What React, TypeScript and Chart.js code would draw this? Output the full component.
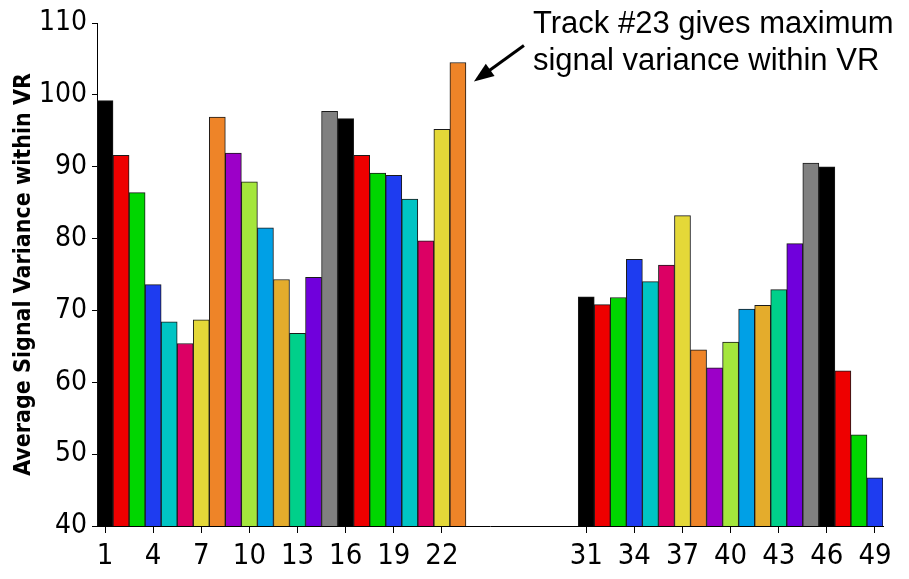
import React, { useEffect, useRef } from "react";
import { Chart, registerables } from "chart.js";

Chart.register(...registerables);

const tracks: string[] = [
  "1", "2", "3", "4", "5", "6", "7", "8", "9", "10",
  "11", "12", "13", "14", "15", "16", "17", "18", "19", "20",
  "21", "22", "23", "24", "25", "26", "27", "28", "29", "30",
  "31", "32", "33", "34", "35", "36", "37", "38", "39", "40",
  "41", "42", "43", "44", "45", "46", "47", "48", "49",
];

const variance: (number | null)[] = [
  99.2, 91.6, 86.4, 73.6, 68.4, 65.4, 68.7, 96.9, 91.9, 87.9,
  81.5, 74.3, 66.8, 74.6, 97.7, 96.7, 91.6, 89.1, 88.8, 85.5,
  79.7, 95.2, 104.5, null, null, null, null, null, null, null,
  71.9, 70.8, 71.8, 77.1, 74.0, 76.3, 83.2, 64.5, 62.0, 65.6,
  70.2, 70.7, 72.9, 79.3, 90.5, 90.0, 61.6, 52.7, 46.7,
];

const palette: string[] = [
  "#000000", "#EE0000", "#00D600", "#1E3CF0", "#00C4C4",
  "#DC0064", "#E4D838", "#EE8428", "#9C00C8", "#A4E63C",
  "#00A0E6", "#E4AC2C", "#00D08A", "#7000DC", "#808080",
];

const shownTicks: string[] = ["1", "4", "7", "10", "13", "16", "19", "22", "31", "34", "37", "40", "43", "46", "49"];

const yTitle = "Average Signal Variance within VR";
const noteLines: string[] = ["Track #23 gives maximum", "signal variance within VR"];
const noteTrackIndex = 22;

const narrow = "'Liberation Sans Narrow', 'DejaVu Sans Condensed', 'Arial Narrow', sans-serif";
const regular = "'Liberation Sans', Arial, sans-serif";

const notePlugin = {
  id: "note",
  afterDraw(chart: any) {
    const meta = chart.getDatasetMeta(0);
    const bar: any = meta.data[noteTrackIndex];
    if (!bar) return;
    const rx = bar.x + bar.width / 2;
    const ty = bar.y;
    const ctx = chart.ctx;
    ctx.save();
    const tipX = rx + 8, tipY = ty + 19;
    const tailX = rx + 58, tailY = ty - 17;
    const dx = tipX - tailX, dy = tipY - tailY;
    const len = Math.hypot(dx, dy);
    const ux = dx / len, uy = dy / len;
    const headLen = 20, headHalf = 7.5;
    ctx.strokeStyle = "#000";
    ctx.fillStyle = "#000";
    ctx.lineWidth = 3;
    ctx.beginPath();
    ctx.moveTo(tailX, tailY);
    ctx.lineTo(tipX - ux * (headLen - 4), tipY - uy * (headLen - 4));
    ctx.stroke();
    const bx = tipX - ux * headLen, by = tipY - uy * headLen;
    ctx.beginPath();
    ctx.moveTo(tipX, tipY);
    ctx.lineTo(bx - uy * headHalf, by + ux * headHalf);
    ctx.lineTo(bx + uy * headHalf, by - ux * headHalf);
    ctx.closePath();
    ctx.fill();
    ctx.font = `31px ${regular}`;
    ctx.textAlign = "left";
    ctx.textBaseline = "alphabetic";
    ctx.fillStyle = "#000";
    ctx.fillText(noteLines[0], rx + 67, ty - 30);
    ctx.fillText(noteLines[1], rx + 67, ty + 7);
    ctx.restore();
  },
};

export default function App() {
  const ref = useRef<HTMLCanvasElement | null>(null);
  useEffect(() => {
    if (!ref.current) return;
    const chart = new Chart(ref.current, {
      type: "bar",
      data: {
        labels: tracks,
        datasets: [
          {
            data: variance,
            backgroundColor: tracks.map((_, i) => palette[i % palette.length]),
            borderColor: "#1a1a1a",
            borderWidth: 1,
            barPercentage: 1,
            categoryPercentage: 1,
          },
        ],
      },
      options: {
        responsive: false,
        animation: false,
        layout: { padding: { top: 23, right: 26, left: 0, bottom: 0 } },
        plugins: {
          legend: { display: false },
          tooltip: { enabled: false },
        },
        scales: {
          x: {
            type: "category",
            offset: true,
            grid: {
              display: true,
              offset: false,
              drawOnChartArea: false,
              drawTicks: true,
              tickLength: 7,
              color: "#000",
              lineWidth: 1,
            },
            border: { display: true, color: "#000", width: 1 },
            ticks: {
              autoSkip: false,
              maxRotation: 0,
              minRotation: 0,
              padding: 6,
              color: "#000",
              font: { family: narrow, size: 29 },
              callback: function (this: any, value: any) {
                const lbl = this.getLabelForValue(value);
                return shownTicks.includes(lbl) ? lbl : null;
              },
            },
            afterFit: (s: any) => {
              s.height = 53;
            },
          },
          y: {
            min: 40,
            max: 110,
            grid: {
              display: true,
              drawOnChartArea: false,
              drawTicks: true,
              tickLength: 5,
              color: "#000",
              lineWidth: 1,
            },
            border: { display: true, color: "#000", width: 1 },
            ticks: {
              stepSize: 10,
              padding: 5,
              color: "#000",
              font: { family: narrow, size: 28 },
            },
            title: {
              display: true,
              text: yTitle,
              color: "#000",
              font: { family: narrow, size: 23, weight: "bold" },
              padding: { top: 10, bottom: 0 },
            },
            afterFit: (s: any) => {
              s.width = 97;
            },
          },
        },
      },
      plugins: [notePlugin],
    });
    return () => chart.destroy();
  }, []);
  return (
    <div style={{ position: "absolute", left: 0, top: 0, width: 909, height: 579 }}>
      <canvas ref={ref} width={909} height={579} style={{ display: "block" }} />
    </div>
  );
}
